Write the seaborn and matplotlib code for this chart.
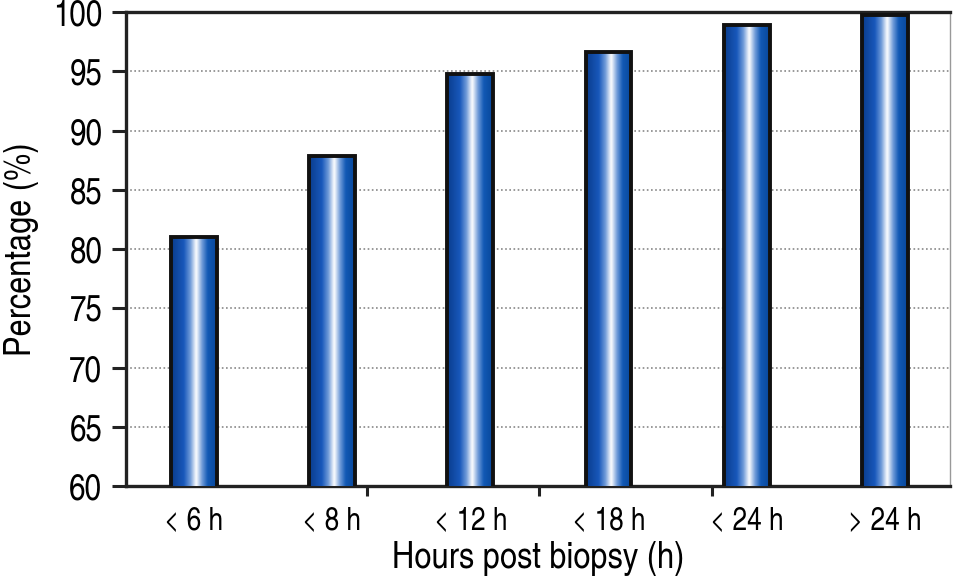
import numpy as np
import pandas as pd
import matplotlib
matplotlib.use("Agg")
import matplotlib.pyplot as plt
from matplotlib.colors import LinearSegmentedColormap
from matplotlib.ticker import FixedLocator
import seaborn as sns

sns.set_theme(style="white")
plt.rcParams['font.family'] = ['TeX Gyre Heros Cn', 'DejaVu Sans']

categories = ['< 6 h', '< 8 h', '< 12 h', '< 18 h', '< 24 h', '> 24 h']
percentages = [81.0, 87.85, 94.8, 96.6, 98.9, 99.8]

df = pd.DataFrame({'hours': categories, 'pct': percentages})

fig = plt.figure(figsize=(9.54, 5.82), dpi=100)
ax = fig.add_axes([0.132, 0.165, 0.864, 0.814])

sns.barplot(data=df, x='hours', y='pct', ax=ax, width=0.33, color='#1f5fb0',
            edgecolor='#111111', linewidth=2.8, zorder=3)

# cylinder-like gradient inside every bar
cmap = LinearSegmentedColormap.from_list(
    'tube', [(0, '#0a3c8c'), (0.28, '#1858bb'), (0.42, '#6e9ad8'), (0.55, '#ffffff'),
             (0.68, '#6e9ad8'), (0.8, '#1259b5'), (1, '#08479a')])
grad = np.linspace(0, 1, 256).reshape(1, -1)
for bar in ax.patches:
    x0, w, h = bar.get_x(), bar.get_width(), bar.get_height()
    im = ax.imshow(grad, cmap=cmap, aspect='auto', extent=(x0, x0 + w, 60, h),
                   zorder=3.5, interpolation='bicubic')
    im.set_clip_path(bar)
    bar.set_facecolor('none')
    bar.set_zorder(4)
ax.set_xlim(-0.49, 5.47)
ax.set_ylim(60, 100)

ax.set_yticks(range(60, 101, 5))
ax.yaxis.grid(True, linestyle=(0, (1, 1.5)), color='#888888', linewidth=1.2, zorder=0)
ax.set_axisbelow(True)

ax.tick_params(axis='y', direction='out', length=10, width=2.2, color='#222222',
               labelsize=26, labelcolor='black', pad=7, left=True)
ax.tick_params(axis='x', which='major', length=0, labelsize=23, labelcolor='black', pad=15)
ax.xaxis.set_minor_locator(FixedLocator(np.linspace(0, 5, 5)))
ax.tick_params(axis='x', which='minor', direction='out', length=7, width=2.2,
               color='#222222', bottom=True)

for s in ['left', 'bottom', 'top']:
    ax.spines[s].set_color('#222222')
    ax.spines[s].set_linewidth(2.4)
ax.spines['right'].set_color('#999999')
ax.spines['right'].set_linewidth(1.0)

ax.set_xlabel('Hours post biopsy (h)', fontsize=27, color='black', labelpad=3)
ax.set_ylabel('Percentage (%)', fontsize=27, color='black', labelpad=10)

fig.savefig('out.png', dpi=100)
